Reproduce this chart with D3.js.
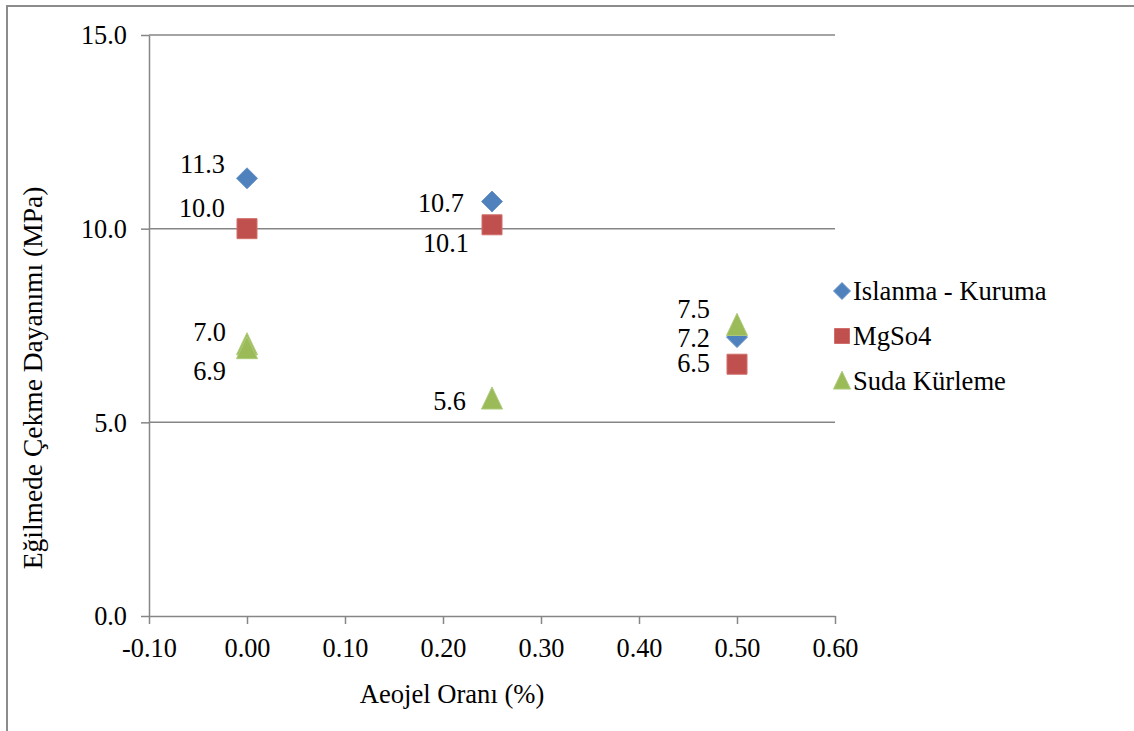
<!DOCTYPE html>
<html>
<head>
<meta charset="utf-8">
<script src="https://cdn.jsdelivr.net/npm/d3@7"></script>
<style>
  html, body { margin: 0; padding: 0; background: #fff; }
  svg { display: block; font-family: "Liberation Serif", "Times New Roman", serif; }
</style>
</head>
<body>
<svg id="chart" width="1134" height="731"></svg>
<script>
// Aerogel ratio (%) on x, flexural strength (MPa) on y
const seriesNames = ["Islanma - Kuruma", "MgSo4", "Suda Kürleme"];
const islanmaX = [0.00, 0.25, 0.50];
const islanmaY = [11.3, 10.7, 7.2];
const mgso4X = [0.00, 0.25, 0.50];
const mgso4Y = [10.0, 10.1, 6.5];
const sudaX = [0.00, 0.00, 0.25, 0.50];
const sudaY = [7.0, 6.9, 5.6, 7.5];
const xTicks = [-0.10, 0.00, 0.10, 0.20, 0.30, 0.40, 0.50, 0.60];
const yTicks = [0, 5, 10, 15];

// Hand-placed value label nudges (right edge, baseline) relative to each marker
const islanmaNudge = [[-22, -5], [-28, 10], [-27, 10]];
const mgso4Nudge = [[-22, -12], [-23, 27], [-27, 8]];
const sudaNudge = [[-21, -4], [-21, 31], [-26, 11], [-27, -8]];

const colors = ["#4F81BD", "#C0504D", "#9BBB59"];
const edges = ["#6a95cc", "#d06e6b", "#aecb79"];
const shapes = ["diamond", "square", "triangle"];

const series = [
  { name: seriesNames[0], xs: islanmaX, ys: islanmaY, nudge: islanmaNudge },
  { name: seriesNames[1], xs: mgso4X, ys: mgso4Y, nudge: mgso4Nudge },
  { name: seriesNames[2], xs: sudaX, ys: sudaY, nudge: sudaNudge }
];

const svg = d3.select("#chart");
const axisColor = "#868686";
const fontSize = 26.3;

// Plain hyphen for negatives, as in the printed axis
const fmt2 = v => d3.format(".2f")(v).replace("\u2212", "-");
const fmt1 = v => d3.format(".1f")(v).replace("\u2212", "-");

// Outer chart frame (left and top edges visible)
svg.append("path")
  .attr("d", "M7,731 L7,6 L1134,6")
  .attr("fill", "none")
  .attr("stroke", "#8c8c8c")
  .attr("stroke-width", 2);

const x = d3.scaleLinear().domain([-0.10, 0.60]).range([149, 835]);
const y = d3.scaleLinear().domain([0, 15]).range([616, 35]);

// Horizontal gridlines
svg.append("g")
  .selectAll("line")
  .data(yTicks.filter(t => t > 0))
  .join("line")
  .attr("x1", x(-0.10)).attr("x2", x(0.60))
  .attr("y1", d => y(d)).attr("y2", d => y(d))
  .attr("stroke", axisColor).attr("stroke-width", 1.5);

// Y axis
const yAxis = svg.append("g")
  .attr("transform", `translate(${x(-0.10)},0)`)
  .call(d3.axisLeft(y).tickValues(yTicks).tickFormat(fmt1).tickSizeInner(8).tickSizeOuter(0).tickPadding(14));
yAxis.select(".domain").attr("stroke", axisColor).attr("stroke-width", 1.5);
yAxis.selectAll(".tick line").attr("stroke", axisColor).attr("stroke-width", 1.5);
yAxis.selectAll(".tick text")
  .attr("fill", "#000").attr("font-size", fontSize)
  .attr("font-family", "Liberation Serif").attr("dy", "0.34em");

// X axis
const xAxis = svg.append("g")
  .attr("transform", `translate(0,${y(0)})`)
  .call(d3.axisBottom(x).tickValues(xTicks).tickFormat(fmt2).tickSizeInner(8).tickSizeOuter(0).tickPadding(14));
xAxis.select(".domain").attr("stroke", axisColor).attr("stroke-width", 1.5);
xAxis.selectAll(".tick line").attr("stroke", axisColor).attr("stroke-width", 1.5);
xAxis.selectAll(".tick text")
  .attr("fill", "#000").attr("font-size", fontSize)
  .attr("font-family", "Liberation Serif").attr("dy", "0.71em");

// Axis titles
svg.append("text")
  .attr("x", 452).attr("y", 703)
  .attr("text-anchor", "middle")
  .attr("font-size", 26.6)
  .text("Aeojel Oranı (%)");

svg.append("text")
  .attr("transform", "translate(42,378) rotate(-90)")
  .attr("text-anchor", "middle")
  .attr("font-size", 27.5)
  .text("Eğilmede Çekme Dayanımı (MPa)");

// Marker path generators
function markerPath(shape, s) {
  if (shape === "diamond") {
    const r = s / 2;
    return `M0,${-r} L${r},0 L0,${r} L${-r},0 Z`;
  }
  if (shape === "square") {
    const r = s / 2;
    return `M${-r},${-r} H${r} V${r} H${-r} Z`;
  }
  const w = s / 2, h = s * 1.05;
  return `M0,${-h * 0.55} L${w},${h * 0.45} L${-w},${h * 0.45} Z`;
}

// Points
series.forEach((sr, i) => {
  const pts = sr.xs.map((xv, j) => ({ x: xv, y: sr.ys[j], n: sr.nudge[j] }));
  svg.append("g")
    .selectAll("path")
    .data(pts)
    .join("path")
    .attr("transform", d => `translate(${x(d.x)},${y(d.y)})`)
    .attr("d", markerPath(shapes[i], i === 1 ? 20 : 21))
    .attr("fill", colors[i])
    .attr("stroke", edges[i])
    .attr("stroke-width", 1);
});

// Value labels
series.forEach((sr, i) => {
  const pts = sr.xs.map((xv, j) => ({ x: xv, y: sr.ys[j], n: sr.nudge[j] }));
  svg.append("g")
    .selectAll("text")
    .data(pts)
    .join("text")
    .attr("x", d => x(d.x) + d.n[0])
    .attr("y", d => y(d.y) + d.n[1])
    .attr("text-anchor", "end")
    .attr("font-size", fontSize)
    .text(d => fmt1(d.y));
});

// Legend
const legend = svg.append("g").attr("transform", "translate(842,291)");
seriesNames.forEach((name, i) => {
  const row = legend.append("g").attr("transform", `translate(0,${i * 45})`);
  row.append("path")
    .attr("d", markerPath(shapes[i], i === 1 ? 15 : 17))
    .attr("fill", colors[i])
    .attr("stroke", edges[i])
    .attr("stroke-width", 1);
  row.append("text")
    .attr("x", 11).attr("y", 9)
    .attr("font-size", 26.6)
    .text(name);
});
</script>
</body>
</html>
